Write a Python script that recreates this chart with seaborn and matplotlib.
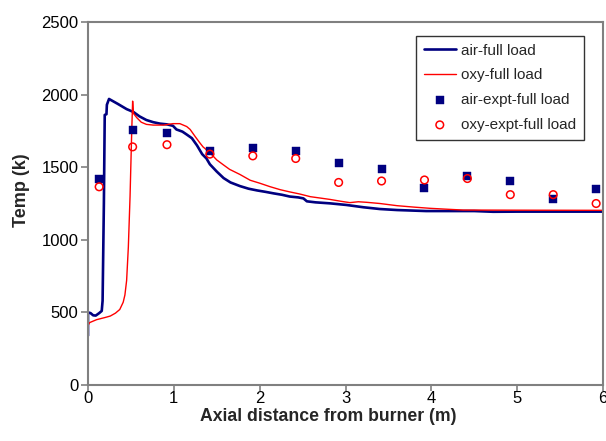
import numpy as np
import pandas as pd
import matplotlib
matplotlib.use("Agg")
import matplotlib.pyplot as plt
import seaborn as sns

# Simulated centreline temperature profiles (full load)
air_x = [0.0, 0.0, 0.03, 0.06, 0.09, 0.13, 0.16, 0.17, 0.185, 0.195, 0.215, 0.22, 0.245,
         0.35, 0.45, 0.53, 0.60, 0.68, 0.76, 0.84, 0.92, 0.99, 1.03, 1.10, 1.15, 1.21,
         1.27, 1.33, 1.38, 1.42, 1.50, 1.58, 1.66, 1.77, 1.87, 1.97, 2.07, 2.16, 2.26,
         2.35, 2.45, 2.51, 2.55, 2.65, 2.82, 3.01, 3.21, 3.40, 3.60, 3.94, 4.50, 4.72,
         5.00, 5.50, 6.00]
air_t = [340, 500, 495, 480, 478, 495, 510, 580, 1250, 1860, 1865, 1930, 1970,
         1935, 1900, 1880, 1850, 1825, 1810, 1800, 1795, 1785, 1760, 1745, 1725, 1700,
         1650, 1590, 1560, 1520, 1470, 1425, 1395, 1370, 1352, 1340, 1330, 1320, 1310,
         1298, 1292, 1285, 1265, 1258, 1251, 1240, 1224, 1212, 1205, 1198, 1198, 1193,
         1194, 1194, 1194]

oxy_x = [0.0, 0.0, 0.02, 0.10, 0.20, 0.26, 0.32, 0.37, 0.41, 0.43, 0.45, 0.47, 0.49,
         0.50, 0.51, 0.52, 0.53, 0.57, 0.62, 0.68, 0.76, 0.88, 0.99, 1.07, 1.15, 1.19,
         1.25, 1.30, 1.34, 1.42, 1.50, 1.58, 1.65, 1.77, 1.89, 2.00, 2.12, 2.24, 2.35,
         2.47, 2.59, 2.70, 2.82, 2.95, 3.05, 3.15, 3.25, 3.40, 3.60, 3.80, 3.98, 4.20,
         4.37, 5.00, 6.00]
oxy_t = [400, 410, 430, 450, 465, 475, 495, 520, 570, 620, 720, 950, 1300,
         1530, 1760, 1955, 1870, 1840, 1810, 1795, 1790, 1790, 1800, 1800, 1780, 1760,
         1710, 1670, 1640, 1600, 1550, 1515, 1485, 1450, 1410, 1390, 1366, 1345, 1330,
         1315, 1297, 1288, 1278, 1265, 1256, 1262, 1258, 1250, 1235, 1225, 1217, 1210,
         1205, 1204, 1203]

# Measured temperatures
expt_x = [0.13, 0.52, 0.92, 1.42, 1.92, 2.42, 2.92, 3.42, 3.92, 4.42, 4.92, 5.42, 5.92]
air_expt = [1420, 1755, 1735, 1610, 1635, 1610, 1530, 1490, 1355, 1440, 1405, 1280, 1350]
oxy_expt = [1365, 1640, 1655, 1590, 1578, 1560, 1395, 1405, 1412, 1422, 1311, 1311, 1250]

x_ticks = [0, 1, 2, 3, 4, 5, 6]
y_ticks = [0, 500, 1000, 1500, 2000, 2500]

sns.set_style("white")
plt.rcParams["font.family"] = ["Liberation Sans", "DejaVu Sans"]

navy = "#000080"
red = "#ff0000"
frame = "#808080"

fig = plt.figure(figsize=(6.06, 4.41), dpi=100)
ax = fig.add_axes([88 / 606, 1 - 385 / 441, 515 / 606, 363 / 441])

air_df = pd.DataFrame({"x": air_x, "t": air_t})
oxy_df = pd.DataFrame({"x": oxy_x, "t": oxy_t})
expt_df = pd.DataFrame({"x": expt_x, "air": air_expt, "oxy": oxy_expt})

sns.lineplot(data=air_df, x="x", y="t", ax=ax, color=navy, lw=1.9,
             sort=False, estimator=None, label="air-full load")
sns.lineplot(data=oxy_df, x="x", y="t", ax=ax, color=red, lw=1.0,
             sort=False, estimator=None, label="oxy-full load")
sns.scatterplot(data=expt_df, x="x", y="air", ax=ax, marker="s", s=34,
                color=navy, edgecolor=navy, linewidth=0.3, label="air-expt-full load", zorder=4)
sns.scatterplot(data=expt_df, x="x", y="oxy", ax=ax, marker="o", s=30,
                facecolor="none", edgecolor=red, linewidth=1.1, label="oxy-expt-full load", zorder=5)

ax.set_xlim(0, 6)
ax.set_ylim(0, 2500)
ax.set_xticks(x_ticks)
ax.set_yticks(y_ticks)
ax.tick_params(axis="both", labelsize=12, colors="black", direction="out")
ax.tick_params(axis="x", length=4, width=1.2, color=frame, pad=0.5)
ax.tick_params(axis="y", length=5, width=1.2, color=frame, pad=2)
ax.tick_params(top=False, right=False, bottom=True, left=True)

for side in ["left", "bottom", "right", "top"]:
    ax.spines[side].set_visible(True)
    ax.spines[side].set_color(frame)
    ax.spines[side].set_linewidth(1.5)

ax.set_xlabel("Axial distance from burner (m)", fontsize=12.7, fontweight="bold")
ax.set_ylabel("Temp (k)", fontsize=13, fontweight="bold")
ax.xaxis.set_label_coords(0.466, -0.062)
ax.yaxis.set_label_coords(-0.112, 0.537)

leg = ax.legend(loc="upper right", bbox_to_anchor=(0.963, 0.961), borderaxespad=0,
                fontsize=11, frameon=True, fancybox=False, handlelength=2.1,
                handletextpad=0.35, labelspacing=0.7, borderpad=0.5)
leg.get_frame().set_edgecolor("black")
leg.get_frame().set_linewidth(1.0)

fig.savefig("out.png", dpi=100)
